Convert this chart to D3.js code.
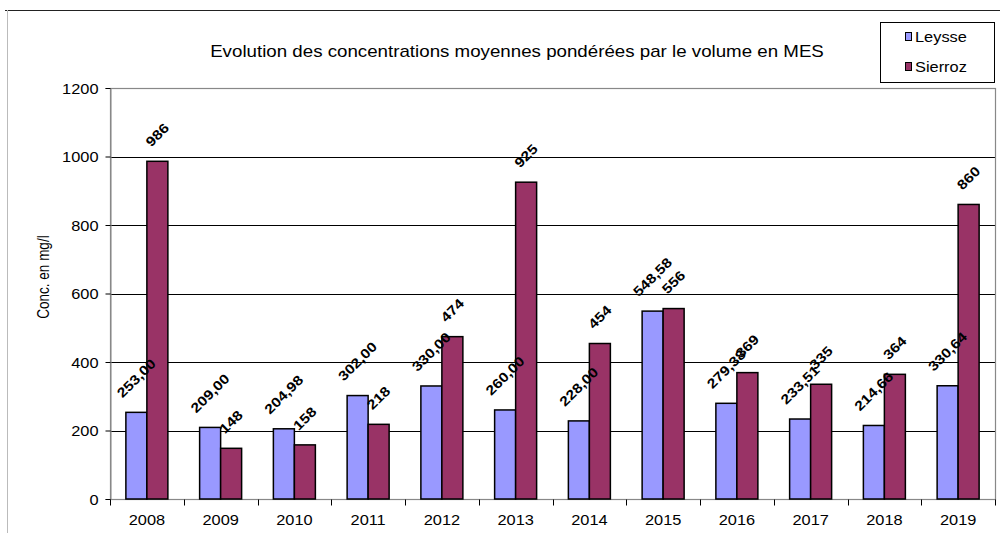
<!DOCTYPE html>
<html><head><meta charset="utf-8">
<script src="https://cdn.jsdelivr.net/npm/d3@7"></script>
<style>
body{margin:0;background:#fff;}
text{font-family:"Liberation Sans",Arial,sans-serif;}
</style></head>
<body>
<svg id="chart" width="1000" height="533"></svg>
<script>
const years = ["2008","2009","2010","2011","2012","2013","2014","2015","2016","2017","2018","2019"];
const seriesNames = ["Leysse","Sierroz"];
const leysse = [253.00,209.00,204.98,302.00,330.00,260.00,228.00,548.58,279.38,233.51,214.66,330.64];
const sierroz = [986,148,158,218,474,925,454,556,369,335,364,860];
const yTicks = [0,200,400,600,800,1000,1200];
const colors = ["#9999FF","#993366"];
const titleText = "Evolution des concentrations moyennes pondérées par le volume en MES";
const yTitle = "Conc. en mg/l";

const SX = 1.17; // horizontal stretch of the reference image text
const svg = d3.select("#chart");
const L = 110, R = 995, T = 88, B = 499;

const x0 = d3.scaleBand().domain(years).range([L, R]).padding(0);
const x1 = d3.scaleBand().domain(seriesNames).range([0, x0.bandwidth()]).paddingInner(0).paddingOuter(0.756);
const y = d3.scaleLinear().domain([0,1200]).range([B, T]);

function stext(g, x, yy, str, opts) {
  const t = g.append("text")
    .attr("transform", `translate(${x},${yy}) scale(${SX},1)`)
    .attr("text-anchor", opts.anchor || "start")
    .attr("font-size", opts.size || 14)
    .attr("font-weight", opts.weight || "normal")
    .attr("fill", "#000")
    .text(str);
  return t;
}

// outer border
svg.append("line").attr("x1",5).attr("x2",1000).attr("y1",10.5).attr("y2",10.5).attr("stroke","#222").attr("stroke-width",1.2);
svg.append("line").attr("x1",7.5).attr("x2",7.5).attr("y1",10).attr("y2",533).attr("stroke","#bbb").attr("stroke-width",1);

// gridlines
svg.append("g").selectAll("line").data(yTicks.filter(d=>d>0 && d<1200)).join("line")
  .attr("x1", L).attr("x2", R).attr("y1", d=>Math.round(y(d))+0.5).attr("y2", d=>Math.round(y(d))+0.5)
  .attr("stroke","#000").attr("stroke-width",1);

// plot border
svg.append("rect").attr("x",L+0.5).attr("y",T+0.5).attr("width",R-L).attr("height",B-T)
  .attr("fill","none").attr("stroke","#888").attr("stroke-width",1.2);

// y axis
const yAxis = d3.axisLeft(y).tickValues(yTicks).tickSize(5).tickFormat("");
const ya = svg.append("g").attr("transform",`translate(${L+0.5},0)`).call(yAxis);
ya.select(".domain").attr("stroke","#888");
ya.selectAll(".tick line").attr("stroke","#000");
ya.selectAll(".tick").each(function(d){
  stext(d3.select(this), -12, 5, d, {anchor:"end", size:14});
});

// x axis
const xa = svg.append("g").attr("transform",`translate(0,${B+0.5})`);
xa.selectAll("line").data(d3.range(years.length+1)).join("line")
  .attr("x1", i=>Math.round(L + i*x0.step())+0.5).attr("x2", i=>Math.round(L + i*x0.step())+0.5)
  .attr("y1",0).attr("y2",6).attr("stroke","#000");
years.forEach(yr=>{
  stext(xa, x0(yr)+x0.bandwidth()/2, 25, yr, {anchor:"middle", size:14});
});

// bars
const rows = years.map((yr,i)=>({year:yr, values:[leysse[i], sierroz[i]]}));
const groups = svg.append("g").selectAll("g").data(rows).join("g")
  .attr("transform", d=>`translate(${x0(d.year)},0)`);
groups.selectAll("rect").data(d=>d.values.map((v,j)=>({name:seriesNames[j], v, j}))).join("rect")
  .attr("x", d=>x1(d.name)).attr("width", x1.bandwidth())
  .attr("y", d=>y(d.v)).attr("height", d=>B - y(d.v))
  .attr("fill", d=>colors[d.j]).attr("stroke","#000").attr("stroke-width",1.5);

// data labels
const fmtL = v => d3.format(".2f")(v).replace(".", ",");
const fmtS = v => d3.format("d")(v);
groups.each(function(d){
  const g = d3.select(this);
  d.values.forEach((v,j)=>{
    const str = j===0 ? fmtL(v) : fmtS(v);
    const cx = x1(seriesNames[j]) + x1.bandwidth()/2;
    const t = g.append("text").attr("font-size",13.5).attr("font-weight","bold")
      .attr("text-anchor","middle").attr("dominant-baseline","central").text(str);
    const w = t.node().getComputedTextLength() * SX;
    const cy = y(v) - 17 - (w/2)*0.707;
    t.attr("transform", `translate(${cx},${cy}) rotate(-45) scale(${SX},1)`);
  });
});

// title
stext(svg, 517, 57, titleText, {anchor:"middle", size:16});

// y title
svg.append("text").attr("transform","translate(49,277) rotate(-90) scale(1,1.17)")
  .attr("text-anchor","middle").attr("font-size",13.5).text(yTitle);

// legend
const lg = svg.append("g");
lg.append("rect").attr("x",880.5).attr("y",22.5).attr("width",114).attr("height",60).attr("fill","#fff").attr("stroke","#000").attr("stroke-width",1);
seriesNames.forEach((n,i)=>{
  const yy = 37 + i*30;
  lg.append("rect").attr("x",905.5).attr("y",yy-4.5).attr("width",6).attr("height",8).attr("fill",colors[i]).attr("stroke","#000").attr("stroke-width",1);
  stext(lg, 915, yy+5, n, {anchor:"start", size:14});
});
</script>
</body></html>
